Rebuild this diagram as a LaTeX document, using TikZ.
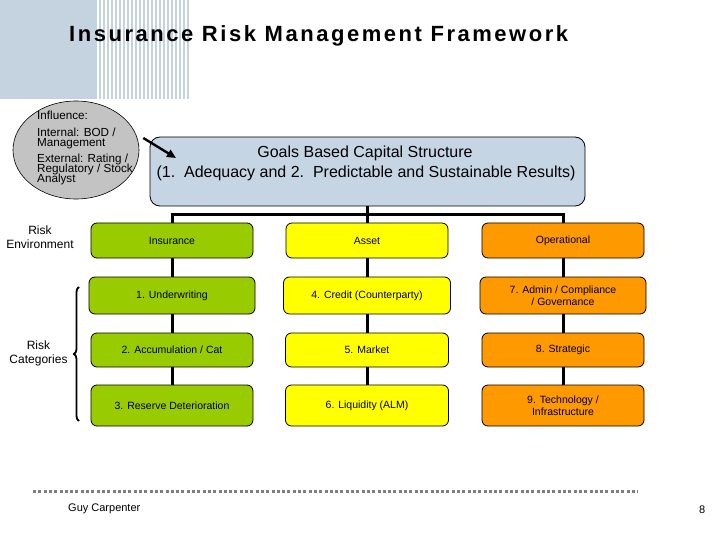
\documentclass[tikz,border=0pt]{standalone}
\usepackage{fontspec}
\setmainfont{Liberation Sans}
\usetikzlibrary{shapes.geometric,decorations.pathreplacing,arrows.meta}
\definecolor{bgblue}{HTML}{C5D2DF}
\definecolor{goalblue}{HTML}{C6D5E4}
\definecolor{insgreen}{HTML}{99CC00}
\definecolor{astyellow}{HTML}{FFFF00}
\definecolor{oporange}{HTML}{FF9900}
\definecolor{elgray}{HTML}{C3C3C3}
\definecolor{dotgray}{HTML}{7F7F7F}
\begin{document}
\begin{tikzpicture}[x=1pt,y=-1pt,
  catbox/.style={draw=black, line width=0.8pt, rounded corners=6pt, inner sep=1pt,
    align=center, font=\fontsize{10.5}{12}\selectfont},
  conn/.style={line width=3pt, black},
  lbl/.style={inner sep=0pt, font=\fontsize{12}{14}\selectfont, align=center},
  inftext/.style={inner sep=0pt, anchor=base west, font=\fontsize{11.7}{12}\selectfont},
  goaltext/.style={inner sep=0pt, anchor=base, font=\fontsize{16}{20}\selectfont}]
\useasboundingbox (0,0) rectangle (720,540);
% background block and stripes
\fill[bgblue] (0,0) rectangle (95,99);
\foreach \i in {0,...,23} {\fill[bgblue] (95+\i*4,0) rectangle ++(2.2,99);}
% title
\node[inner sep=0pt, anchor=base west, font=\fontsize{22}{24}\selectfont\bfseries\addfontfeature{LetterSpace=11.5}] (title) at (69,42) {Insurance Risk Management Framework};
% influence ellipse
\node[ellipse, draw=black, line width=0.6pt, fill=elgray, minimum width=126pt, minimum height=98pt, inner sep=0pt] (infl) at (76,150) {};
\node[inftext] (i1) at (37,120) {Influence:};
\node[inftext] (i2) at (37,137) {Internal: BOD /};
\node[inftext] (i3) at (37,146.5) {Management};
\node[inftext] (i4) at (37,163) {External: Rating /};
\node[inftext] (i5) at (37,173) {Regulatory / Stock};
\node[inftext] (i6) at (37,183) {Analyst};
% goals box
\node[draw=black, line width=0.8pt, fill=goalblue, rounded corners=10pt, minimum width=435pt, minimum height=69pt, inner sep=0pt] (goals) at (367.5,171.5) {};
\node[goaltext] (g1) at (365,158) {Goals Based Capital Structure};
\node[goaltext] (g2) at (366,178) {(1.\ \ Adequacy and 2.\ \ Predictable and Sustainable Results)};
% arrow
\coordinate (atip) at (176,158);
\draw[line width=2.4pt, -{Triangle[length=9pt,width=8pt]}] ([shift={(4,-12)}]infl.east) -- (atip);
% category headers
\node[catbox, fill=insgreen, minimum width=162pt, minimum height=35pt] (insH) at (172,240.5) {Insurance};
\node[catbox, fill=astyellow, minimum width=162pt, minimum height=35pt] (astH) at (367,240.5) {Asset};
\node[catbox, fill=oporange, minimum width=162pt, minimum height=35pt] (opH) at (563,240.5) {Operational};
% rows
\node[catbox, fill=insgreen, minimum width=166pt, minimum height=37pt] (ins1) at (172,295.5) {1. Underwriting};
\node[catbox, fill=insgreen, minimum width=162pt, minimum height=34pt] (ins2) at (172,350) {2. Accumulation / Cat};
\node[catbox, fill=insgreen, minimum width=162pt, minimum height=41pt] (ins3) at (172,405.5) {3. Reserve Deterioration};
\node[catbox, fill=astyellow, minimum width=167pt, minimum height=37pt] (ast1) at (367,295.5) {4. Credit (Counterparty)};
\node[catbox, fill=astyellow, minimum width=163pt, minimum height=34pt] (ast2) at (367,350) {5. Market};
\node[catbox, fill=astyellow, minimum width=163pt, minimum height=41pt] (ast3) at (367,405.5) {6. Liquidity (ALM)};
\node[catbox, fill=oporange, minimum width=166pt, minimum height=37pt] (op1) at (563,295.5) {7. Admin / Compliance\\/ Governance};
\node[catbox, fill=oporange, minimum width=162pt, minimum height=34pt] (op2) at (563,350) {8. Strategic};
\node[catbox, fill=oporange, minimum width=162pt, minimum height=41pt] (op3) at (563,405.5) {9. Technology /\\Infrastructure};
% tree connectors
\coordinate (bar) at (367,215);
\draw[conn] (goals.south -| bar) -- (bar);
\draw[conn] (insH.north) |- (bar) -| (opH.north);
\draw[conn] (bar) -- (astH.north);
\foreach \c in {ins,ast,op} {
  \draw[conn] (\c H.south) -- (\c 1.north);
  \draw[conn] (\c 1.south) -- (\c 2.north);
  \draw[conn] (\c 2.south) -- (\c 3.north);
}
% left labels
\node[lbl] (env) at (40,237.5) {Risk\\Environment};
\node[lbl] (cats) at (38.5,353) {Risk\\Categories};
% brace
\coordinate (bbot) at (79,421);
\coordinate (btop) at (79,287);
\draw[line width=1.8pt, decorate, decoration={brace, amplitude=5pt}] (bbot) -- (btop);
% footer
\coordinate (dl) at (33,491);
\coordinate (dr) at (638,491);
\draw[dotgray, line width=3pt, dash pattern=on 3pt off 2.3pt] (dl) -- (dr);
\node[inner sep=0pt, anchor=base west, font=\fontsize{11}{13}\selectfont] (guy) at (68,511) {Guy Carpenter};
\node[inner sep=0pt, anchor=base west, font=\fontsize{11}{13}\selectfont] (pg) at (699,513) {8};
\end{tikzpicture}
\end{document}
